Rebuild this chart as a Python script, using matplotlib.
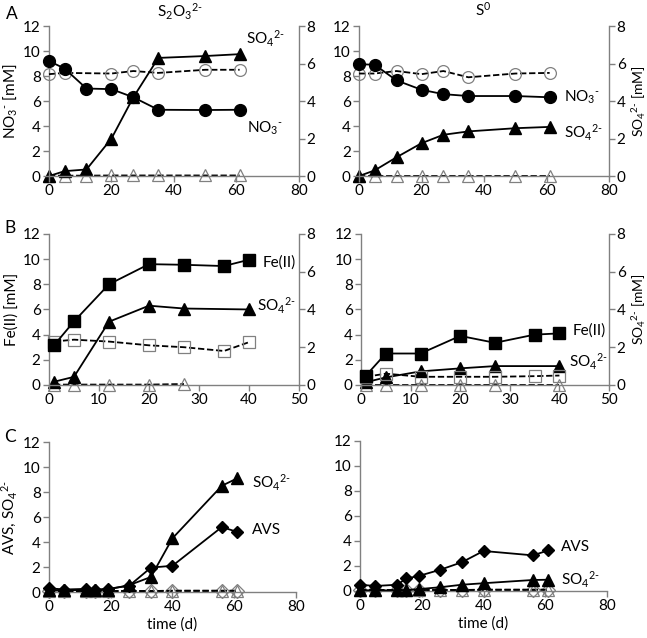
import numpy as np
import matplotlib
matplotlib.use("Agg")
import matplotlib.pyplot as plt

plt.rcParams['font.family'] = ['Lato', 'DejaVu Sans']
plt.rcParams['mathtext.fontset'] = 'custom'
plt.rcParams['mathtext.rm'] = 'Lato'
plt.rcParams['mathtext.it'] = 'Lato:italic'
plt.rcParams['font.size'] = 10.5

# ---- data ----
# A: nitrate experiments
t_A = [0, 5, 12, 20, 27, 35, 50, 61]
no3_thio = [9.2, 8.6, 7.0, 6.95, 6.3, 5.3, 5.28, 5.3]
no3_thio_ctrl_t = [0, 5, 20, 27, 35, 50, 61]
no3_thio_ctrl = [8.15, 8.25, 8.2, 8.4, 8.25, 8.5, 8.5]
so4_thio = [0.0, 0.26, 0.35, 2.0, 4.2, 6.3, 6.4, 6.5]
so4_thio_ctrl = [0.02, 0.02, 0.02, 0.03, 0.03, 0.03, 0.03, 0.03]

no3_s0 = [8.95, 8.9, 7.65, 6.9, 6.55, 6.4, 6.4, 6.3]
no3_s0_ctrl = [8.2, 8.2, 8.4, 8.15, 8.4, 7.9, 8.2, 8.25]
so4_s0 = [0.0, 0.3, 1.0, 1.75, 2.2, 2.38, 2.55, 2.62]
so4_s0_ctrl = [0.02, 0.02, 0.02, 0.02, 0.02, 0.02, 0.02, 0.02]

# B: Fe(III) experiments
t_B = [1, 5, 12, 20, 27, 35, 40]
fe_thio = [3.15, 5.05, 8.0, 9.6, 9.55, 9.45, 9.95]
fe_thio_ctrl = [3.45, 3.6, 3.45, 3.15, 3.0, 2.7, 3.4]
t_B_so4 = [1, 5, 12, 20, 27, 40]
so4_fe_thio = [0.17, 0.43, 3.35, 4.2, 4.05, 4.0]
t_B_so4_ctrl_thio = [1, 5, 12, 20, 27]
so4_fe_thio_ctrl = [0.02, 0.02, 0.02, 0.02, 0.05]

fe_s0 = [0.75, 2.5, 2.5, 3.9, 3.35, 4.0, 4.1]
fe_s0_ctrl = [0.65, 0.9, 0.65, 0.65, 0.65, 0.7, 0.75]
so4_fe_s0 = [0.15, 0.4, 0.72, 0.88, 1.0, 1.0]
so4_fe_s0_ctrl = [0.02, 0.02, 0.02, 0.02, 0.02, 0.02]

# C: sulfate/AVS (no acceptor)
t_C = [0, 5, 12, 15, 19, 26, 33, 40, 56, 61]
so4_c_thio = [0.15, 0.15, 0.15, 0.15, 0.2, 0.55, 1.2, 4.3, 8.5, 9.1]
avs_c_thio = [0.3, 0.2, 0.25, 0.2, 0.25, 0.5, 1.95, 2.1, 5.2, 4.8]
so4_c_s0 = [0.05, 0.05, 0.05, 0.08, 0.15, 0.3, 0.5, 0.62, 0.88, 0.9]
avs_c_s0 = [0.5, 0.4, 0.5, 1.0, 1.2, 1.7, 2.3, 3.2, 2.85, 3.25]
ctrl_c = [0.08, 0.08, 0.08, 0.08, 0.08, 0.08, 0.08, 0.1, 0.1, 0.1]

GRAY = '#808080'
DASH = (0, (3.5, 1.5))


def style(ax, xmax, xstep):
    ax.set_xlim(0, xmax)
    ax.set_ylim(0, 12)
    ax.set_xticks(np.arange(0, xmax + 1, xstep))
    ax.set_yticks(np.arange(0, 13, 2))
    for s in ['top', 'right']:
        ax.spines[s].set_visible(False)
    for s in ['left', 'bottom']:
        ax.spines[s].set_color(GRAY)
        ax.spines[s].set_linewidth(1.0)
    ax.tick_params(direction='out', length=4, width=1, color=GRAY,
                   labelsize=11, pad=2)


def style_right(ax2):
    ax2.set_ylim(0, 8)
    ax2.set_yticks(np.arange(0, 9, 2))
    for s in ['top', 'left', 'bottom']:
        ax2.spines[s].set_visible(False)
    ax2.spines['right'].set_color(GRAY)
    ax2.spines['right'].set_linewidth(1.0)
    ax2.tick_params(direction='out', length=4, width=1, color=GRAY,
                    labelsize=11, pad=1.5)


def solid(ax, x, y, m, ms):
    ax.plot(x, y, '-', color='black', lw=1.3, marker=m, ms=ms,
            mfc='black', mec='black', zorder=4, clip_on=False)


def ctrl(ax, x, y, m, ms):
    ax.plot(x, y, color='black', ls=DASH, lw=1.3, marker=m, ms=ms,
            mfc='none', mec=GRAY, mew=0.9, zorder=3, clip_on=False)


fig = plt.figure(figsize=(6.47, 6.38), dpi=100)

so4_lab = 'SO$_4{}^{2\u2010}$'
no3_lab = 'NO$_3{}^{\u2010}$'

# ---------- A ----------
axA1 = fig.add_axes([0.0757, 0.7241, 0.3864, 0.2351])
axA1r = axA1.twinx()
style(axA1, 80, 20)
style_right(axA1r)
ctrl(axA1, no3_thio_ctrl_t, no3_thio_ctrl, 'o', 8.5)
ctrl(axA1r, t_A, so4_thio_ctrl, '^', 8.5)
solid(axA1, t_A, no3_thio, 'o', 8.5)
solid(axA1r, t_A, so4_thio, '^', 8)
axA1.set_zorder(axA1r.get_zorder() + 1)
axA1.patch.set_visible(False)
axA1.set_ylabel(no3_lab + ' [mM]', labelpad=3, fontsize=11)
axA1.text(63, 11.0, so4_lab, ha='left', va='center', fontsize=11)
axA1.text(63.5, 3.85, no3_lab, ha='left', va='center', fontsize=11)

axA2 = fig.add_axes([0.5549, 0.7241, 0.3864, 0.2351])
axA2r = axA2.twinx()
style(axA2, 80, 20)
style_right(axA2r)
ctrl(axA2, t_A, no3_s0_ctrl, 'o', 8.5)
ctrl(axA2r, t_A, so4_s0_ctrl, '^', 8.5)
solid(axA2, t_A, no3_s0, 'o', 8.5)
solid(axA2r, t_A, so4_s0, '^', 8)
axA2.set_zorder(axA2r.get_zorder() + 1)
axA2.patch.set_visible(False)
axA2r.set_ylabel(so4_lab + ' [mM]', fontsize=10)
axA2r.yaxis.set_label_coords(1.085, 0.5)
axA2.text(65.5, 6.3, no3_lab, ha='left', va='center', fontsize=11)
axA2.text(65.5, 3.45, so4_lab, ha='left', va='center', fontsize=11)

# ---------- B ----------
axB1 = fig.add_axes([0.0757, 0.3966, 0.3864, 0.2367])
axB1r = axB1.twinx()
style(axB1, 50, 10)
style_right(axB1r)
ctrl(axB1, t_B, fe_thio_ctrl, 's', 8.5)
ctrl(axB1r, t_B_so4_ctrl_thio, so4_fe_thio_ctrl, '^', 8.5)
solid(axB1, t_B, fe_thio, 's', 8)
solid(axB1r, t_B_so4, so4_fe_thio, '^', 8)
axB1.set_zorder(axB1r.get_zorder() + 1)
axB1.patch.set_visible(False)
axB1.set_ylabel('Fe(II) [mM]', labelpad=3, fontsize=11)
axB1.text(42.7, 9.7, 'Fe(II)', ha='left', va='center', fontsize=11)
axB1.text(41.7, 6.3, so4_lab, ha='left', va='center', fontsize=11)

axB2 = fig.add_axes([0.558, 0.3966, 0.3833, 0.2367])
axB2r = axB2.twinx()
style(axB2, 50, 10)
style_right(axB2r)
ctrl(axB2, t_B, fe_s0_ctrl, 's', 8.5)
ctrl(axB2r, t_B_so4, so4_fe_s0_ctrl, '^', 8.5)
solid(axB2, t_B, fe_s0, 's', 8)
solid(axB2r, t_B_so4, so4_fe_s0, '^', 8)
axB2.set_zorder(axB2r.get_zorder() + 1)
axB2.patch.set_visible(False)
axB2r.set_ylabel(so4_lab + ' [mM]', fontsize=10)
axB2r.yaxis.set_label_coords(1.085, 0.5)
axB2.text(42.7, 4.35, 'Fe(II)', ha='left', va='center', fontsize=11)
axB2.text(41.9, 1.85, so4_lab, ha='left', va='center', fontsize=11)

# ---------- C ----------
axC1 = fig.add_axes([0.0757, 0.0721, 0.3818, 0.2351])
style(axC1, 80, 20)
ctrl(axC1, t_C, ctrl_c, 'D', 7)
ctrl(axC1, t_C, ctrl_c, '^', 8.5)
solid(axC1, t_C, avs_c_thio, 'D', 6.5)
solid(axC1, t_C, so4_c_thio, '^', 8)
axC1.set_ylabel('AVS, ' + so4_lab, labelpad=3, fontsize=11)
axC1.set_xlabel('time (d)', labelpad=2, fontsize=11)
axC1.text(65.6, 8.7, so4_lab, ha='left', va='center', fontsize=11)
axC1.text(65.6, 4.95, 'AVS', ha='left', va='center', fontsize=11)

axC2 = fig.add_axes([0.5564, 0.0737, 0.3818, 0.2351])
style(axC2, 80, 20)
ctrl(axC2, t_C, ctrl_c, 'D', 7)
ctrl(axC2, t_C, ctrl_c, '^', 8.5)
solid(axC2, t_C, avs_c_s0, 'D', 6.5)
solid(axC2, t_C, so4_c_s0, '^', 8)
axC2.set_xlabel('time (d)', labelpad=2, fontsize=11)
axC2.text(65, 3.5, 'AVS', ha='left', va='center', fontsize=11)
axC2.text(65, 0.9, so4_lab, ha='left', va='center', fontsize=11)

# titles and panel letters
fig.text(180 / 647, 1 - 12 / 638, 'S$_2$O$_3{}^{2\u2010}$', ha='center', va='center', fontsize=11)
fig.text(483 / 647, 1 - 10 / 638, 'S$^0$', ha='center', va='center', fontsize=11)
fig.text(12 / 647, 1 - 14 / 638, 'A', ha='center', va='center', fontsize=12.5)
fig.text(10 / 647, 1 - 228 / 638, 'B', ha='center', va='center', fontsize=12.5)
fig.text(10 / 647, 1 - 437 / 638, 'C', ha='center', va='center', fontsize=12.5)

fig.savefig('out.png', dpi=100)
